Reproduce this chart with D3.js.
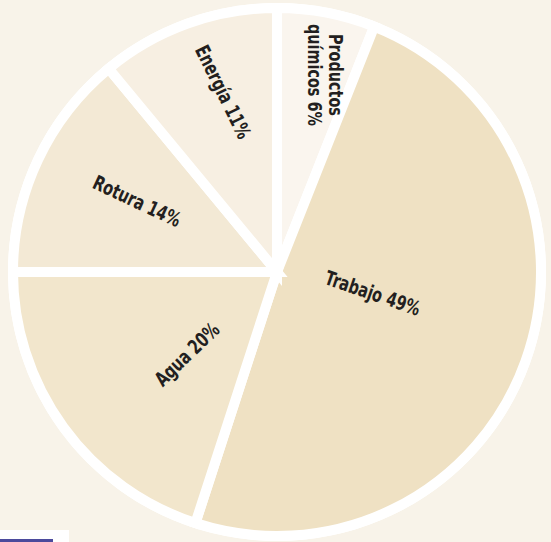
<!DOCTYPE html>
<html>
<head>
<meta charset="utf-8">
<script src="https://cdn.jsdelivr.net/npm/d3@7"></script>
<style>
  html, body { margin: 0; padding: 0; background: #f8f3e9; }
  svg { display: block; }
</style>
</head>
<body>
<svg id="chart" width="551" height="542"></svg>
<script>
// Data (clockwise from 12 o'clock)
const categories = ["Productos químicos", "Trabajo", "Agua", "Rotura", "Energía"];
const values = [6, 49, 20, 14, 11];
const labelLines = [["Productos", "químicos 6%"], ["Trabajo 49%"], ["Agua 20%"], ["Rotura 14%"], ["Energía 11%"]];

// Styling / layout
const sliceColors = ["#faf5ee", "#efe1c3", "#f2e6cc", "#f3e9d5", "#f7efe2"];
const labelPlacement = [ // polar angle (deg), radius, text rotation (deg)
  { a: 13.9, r: 203, rot: 90 },
  { a: 102.3, r: 98, rot: 19 },
  { a: 227.7, r: 122, rot: -44 },
  { a: 296.9, r: 157, rot: 25 },
  { a: 343.4, r: 188, rot: 64 }
];

const W = 551, H = 542;
const cx = 277, cy = 272;
const svg = d3.select("#chart");

svg.append("rect").attr("width", W).attr("height", H).attr("fill", "#f8f3e9");

// outer white ring
svg.append("circle").attr("cx", cx).attr("cy", cy).attr("r", 269).attr("fill", "#ffffff");

const pie = d3.pie().sort(null).value(d => d)(values);
const arc = d3.arc().innerRadius(0).outerRadius(264);

const g = svg.append("g").attr("transform", `translate(${cx},${cy})`);
g.selectAll("path.slice").data(pie).join("path")
  .attr("class", "slice")
  .attr("d", arc)
  .attr("fill", (d, i) => sliceColors[i])
  .attr("stroke", "#ffffff")
  .attr("stroke-width", 10)
  .attr("stroke-linejoin", "miter");

const fontSize = 20;
const lbl = g.selectAll("g.lbl").data(pie).join("g")
  .attr("class", "lbl")
  .attr("transform", (d, i) => {
    const p = labelPlacement[i];
    const a = p.a * Math.PI / 180;
    return `translate(${p.r * Math.sin(a)},${-p.r * Math.cos(a)}) rotate(${p.rot}) scale(0.8,1)`;
  });

lbl.each(function (d, i) {
  const lines = labelLines[i];
  const t = d3.select(this).append("text")
    .attr("text-anchor", "middle")
    .attr("font-family", "'DejaVu Sans Condensed', 'DejaVu Sans', sans-serif")
    .attr("font-stretch", "condensed")
    .attr("font-weight", "bold")
    .attr("font-size", fontSize)
    .attr("fill", "#231f20");
  const lh = 21;
  lines.forEach((ln, k) => {
    t.append("tspan")
      .attr("x", 0)
      .attr("y", (k - (lines.length - 1) / 2) * lh + fontSize * 0.36)
      .text(ln);
  });
});

// small element bottom-left
svg.append("rect").attr("x", 0).attr("y", 530).attr("width", 69).attr("height", 12).attr("fill", "#ffffff");
svg.append("rect").attr("x", 0).attr("y", 539).attr("width", 53).attr("height", 3).attr("fill", "#4b4a9c");
</script>
</body>
</html>
